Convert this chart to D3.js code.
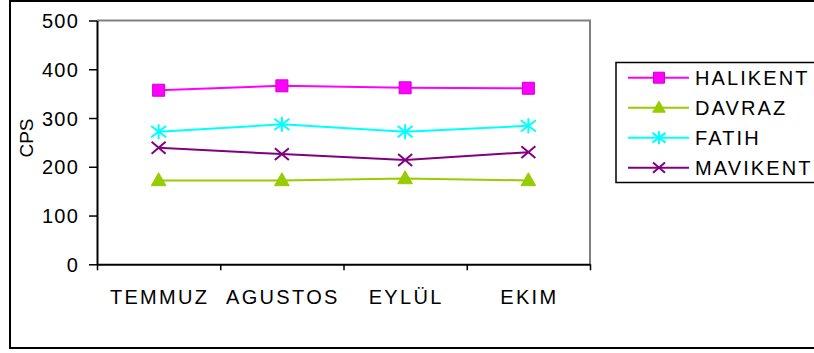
<!DOCTYPE html>
<html>
<head>
<meta charset="utf-8">
<script src="https://cdn.jsdelivr.net/npm/d3@7"></script>
<style>
  body { margin: 0; background: #fff; }
  svg { display: block; font-family: "Liberation Sans", Arial, sans-serif; }
</style>
</head>
<body>
<svg id="chart" width="814" height="353"></svg>
<script>
// months on the x axis
var months = ["TEMMUZ", "AGUSTOS", "EYLÜL", "EKIM"];
var yTicks = [0, 100, 200, 300, 400, 500];
var seriesNames = ["HALIKENT", "DAVRAZ", "FATIH", "MAVIKENT"];
var halikent = [357, 366, 362, 361];
var davraz = [172, 172, 176, 172];
var fatih = [272, 287, 272, 284];
var mavikent = [239, 226, 214, 230];

var seriesValues = [halikent, davraz, fatih, mavikent];
var colors = ["#ff00ff", "#99cc00", "#00ffff", "#800080"];

var svg = d3.select("#chart");

var plotLeft = 97, plotRight = 590, plotTop = 20.5, plotBottom = 264.3;

// outer frame
svg.append("rect")
  .attr("x", 10).attr("y", 1)
  .attr("width", 820).attr("height", 347)
  .attr("fill", "none").attr("stroke", "#000").attr("stroke-width", 2);

var x = d3.scaleBand().domain(months).range([plotLeft, plotRight]).padding(0);
var xEdge = d3.scaleLinear().domain([0, months.length]).range([plotLeft, plotRight]);
var y = d3.scaleLinear().domain([0, 500]).range([plotBottom, plotTop]);

// gray top + right border of plot area
svg.append("path")
  .attr("d", "M" + plotLeft + "," + plotTop + "H" + plotRight + "V" + plotBottom)
  .attr("fill", "none").attr("stroke", "#808080").attr("stroke-width", 2);

// y axis
var gy = svg.append("g")
  .attr("transform", "translate(" + plotLeft + ",0)")
  .call(d3.axisLeft(y).tickValues(yTicks).tickSize(8).tickSizeOuter(0).tickPadding(11));
gy.select(".domain").attr("stroke-width", 2);
gy.selectAll(".tick line").attr("stroke-width", 1.5);
gy.selectAll(".tick text")
  .attr("x", -18)
  .attr("dy", "0.36em")
  .attr("font-size", 20)
  .attr("letter-spacing", 1.2)
  .attr("font-family", "Liberation Sans, Arial, sans-serif")
  .attr("fill", "#000");

// x axis with ticks at category boundaries
var gx = svg.append("g")
  .attr("transform", "translate(0," + plotBottom + ")")
  .call(d3.axisBottom(xEdge).tickValues(d3.range(months.length + 1))
    .tickFormat("").tickSize(6).tickSizeOuter(0));
gx.select(".domain").attr("stroke-width", 2);
gx.selectAll(".tick line").attr("stroke-width", 1.5);

svg.append("g").selectAll("text")
  .data(months)
  .enter()
  .append("text")
  .attr("text-anchor", "middle")
  .attr("font-size", 20)
  .attr("letter-spacing", 2.3)
  .attr("x", function(d) { return x(d) + x.bandwidth() / 2 + 1; })
  .attr("y", 304)
  .text(function(d) { return d; });

// y axis title
svg.append("text")
  .attr("transform", "translate(33,138) rotate(-90)")
  .attr("text-anchor", "middle")
  .attr("font-size", 19)
  .text("CPS");

// marker shapes
function marker(i, r) {
  if (i == 0) return "M" + (-r) + "," + (-r) + "h" + 2 * r + "v" + 2 * r + "h" + (-2 * r) + "Z";
  if (i == 1) return "M0," + (-r * 1.1) + "L" + r * 1.05 + "," + r * 0.75 + "L" + (-r * 1.05) + "," + r * 0.75 + "Z";
  if (i == 2) return "M0," + (-r) + "V" + r + "M" + (-r) + "," + (-r * 0.75) + "L" + r + "," + r * 0.75 +
    "M" + (-r) + "," + r * 0.75 + "L" + r + "," + (-r * 0.75);
  return "M" + (-r) + "," + (-r * 0.85) + "L" + r + "," + r * 0.85 + "M" + (-r) + "," + r * 0.85 + "L" + r + "," + (-r * 0.85);
}
var markerSize = [6, 7, 7.5, 7];

function drawMarker(g, i, cx, cy, r) {
  var p = g.append("path")
    .attr("transform", "translate(" + cx + "," + cy + ")")
    .attr("d", marker(i, r));
  if (i < 2) {
    p.attr("fill", colors[i]).attr("stroke", i == 0 ? "#d000d0" : colors[i]).attr("stroke-width", 1);
  } else {
    p.attr("fill", "none").attr("stroke", colors[i]).attr("stroke-width", 2);
  }
}

var line = d3.line()
  .x(function(d, i) { return x(months[i]) + x.bandwidth() / 2; })
  .y(function(d) { return y(d); });

seriesValues.forEach(function(vals, i) {
  var g = svg.append("g");
  g.append("path")
    .datum(vals)
    .attr("fill", "none")
    .attr("stroke", colors[i])
    .attr("stroke-width", 2)
    .attr("d", line);
  vals.forEach(function(v, j) {
    drawMarker(g, i, x(months[j]) + x.bandwidth() / 2, y(v), markerSize[i]);
  });
});

// legend
var lg = svg.append("g");
lg.append("rect")
  .attr("x", 616).attr("y", 62.5)
  .attr("width", 220).attr("height", 120)
  .attr("fill", "#fff").attr("stroke", "#000").attr("stroke-width", 1.5);

seriesNames.forEach(function(name, i) {
  var ly = 77.7 + i * 30;
  lg.append("line")
    .attr("x1", 628).attr("x2", 689)
    .attr("y1", ly).attr("y2", ly)
    .attr("stroke", colors[i]).attr("stroke-width", 2);
  drawMarker(lg, i, 659, ly, i == 0 ? 5.5 : markerSize[i] - 1);
  lg.append("text")
    .attr("x", 695)
    .attr("y", ly)
    .attr("dy", "0.36em")
    .attr("font-size", 20)
    .attr("letter-spacing", 2.1)
    .text(name);
});
</script>
</body>
</html>
